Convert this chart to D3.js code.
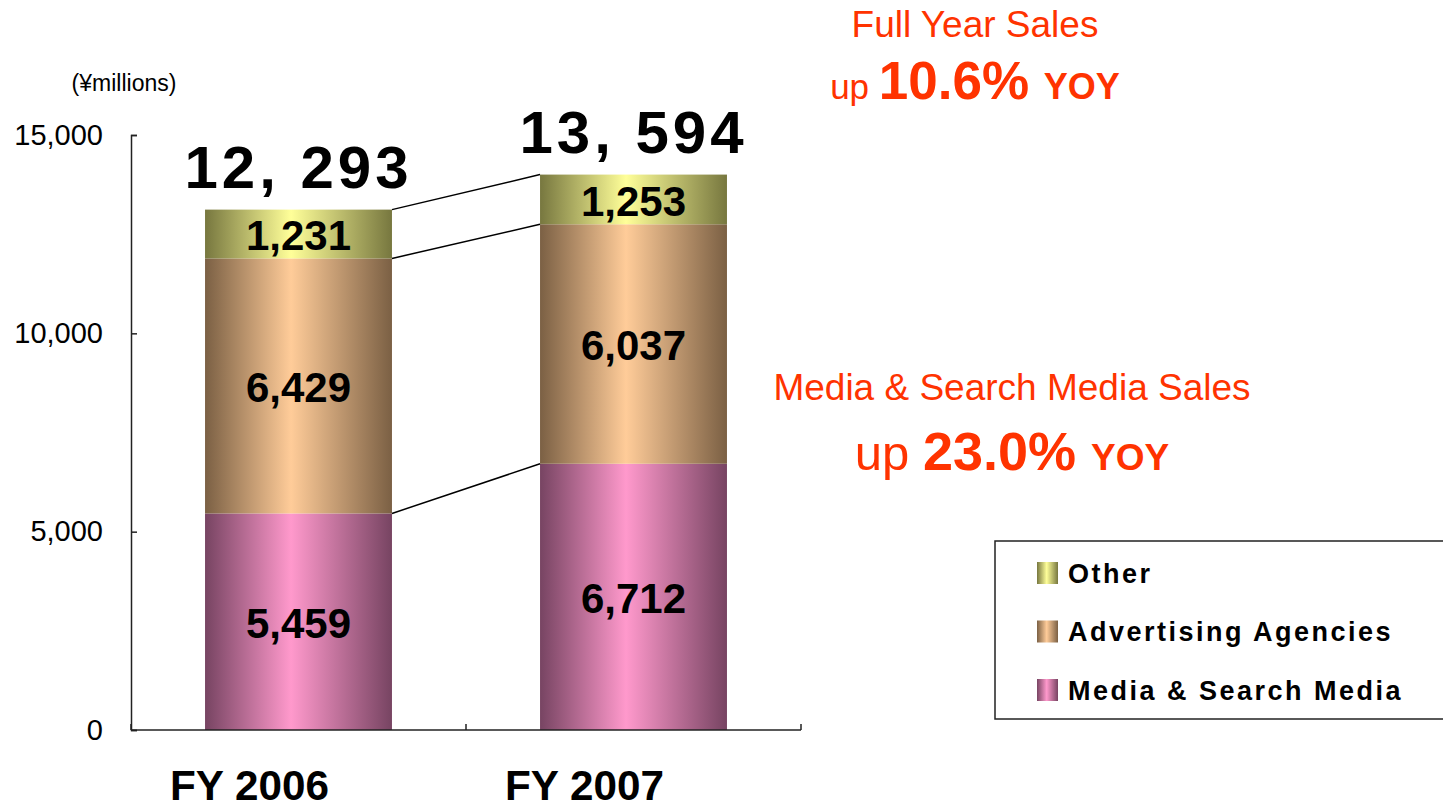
<!DOCTYPE html>
<html lang="en"><head>
<meta charset="utf-8"/>
<title>Sales by segment FY2006 - FY2007</title>
<script src="https://d3js.org/d3.v7.min.js"></script>
<style>
    body { margin: 0; padding: 0; background: #fff; width: 1443px; height: 808px; overflow: hidden; }
    svg { font-family: 'Liberation Sans', Arial, sans-serif; }
</style>
</head>
<body>
<svg id="chart" width="1443" height="808"></svg>
<script>
    // data
    const categories = ["FY 2006", "FY 2007"];
    const seriesNames = ["Media & Search Media", "Advertising Agencies", "Other"];
    const mediaSales = [5459, 6712];
    const agencySales = [6429, 6037];
    const otherSales = [1231, 1253];
    const totalLabels = ["12, 293", "13, 594"];
    const yTicks = [0, 5000, 10000, 15000];

    const gradColors = [
        { id: "gMedia", edge: "#774462", mid: "#ff99cc" },
        { id: "gAgency", edge: "#7b6044", mid: "#ffcc99" },
        { id: "gOther", edge: "#77773f", mid: "#ffff99" }
    ];

    const rows = categories.map((c, i) => ({
        cat: c, media: mediaSales[i], agency: agencySales[i], other: otherSales[i]
    }));
    const keys = ["media", "agency", "other"];
    const stacked = d3.stack().keys(keys)(rows);

    const svg = d3.select("#chart");

    // gradients (dark edges, light centre)
    const defs = svg.append("defs");
    gradColors.forEach(g => {
        const lg = defs.append("linearGradient").attr("id", g.id)
            .attr("x1", "0%").attr("x2", "100%").attr("y1", "0%").attr("y2", "0%");
        lg.append("stop").attr("offset", "0%").attr("stop-color", g.edge);
        lg.append("stop").attr("offset", "46%").attr("stop-color", g.mid);
        lg.append("stop").attr("offset", "100%").attr("stop-color", g.edge);
    });

    const x = d3.scaleBand().domain(categories).range([131, 801])
        .paddingInner(0.442).paddingOuter(0.221);
    const y = d3.scaleLinear().domain([0, 15000]).range([730, 135]);
    const bw = x.bandwidth();

    // y axis
    const yAxis = svg.append("g")
        .attr("transform", "translate(131,0)")
        .call(d3.axisLeft(y).tickValues(yTicks).tickSize(-6).tickPadding(28)
            .tickFormat(d3.format(",")));
    yAxis.select(".domain").attr("stroke", "#222").attr("stroke-width", 1.5);
    yAxis.selectAll(".tick line").attr("stroke", "#222").attr("stroke-width", 1.5);
    yAxis.selectAll("text").attr("font-size", 29).attr("fill", "#000")
        .attr("font-family", "'Liberation Sans', Arial, sans-serif");

    svg.append("text").attr("x", 124).attr("y", 91).attr("text-anchor", "middle")
        .attr("font-size", 23).text("(\u00a5millions)");

    // bars
    const layers = svg.append("g").selectAll("g").data(stacked).join("g")
        .attr("fill", (d, i) => `url(#${gradColors[i].id})`);
    layers.selectAll("rect").data(d => d).join("rect")
        .attr("x", d => x(d.data.cat))
        .attr("width", bw)
        .attr("y", d => y(d[1]))
        .attr("height", d => y(d[0]) - y(d[1]));

    // segment labels
    layers.selectAll("text").data(d => d).join("text")
        .attr("x", d => x(d.data.cat) + bw / 2)
        .attr("y", d => (y(d[0]) + y(d[1])) / 2 + 1)
        .attr("dy", "0.36em")
        .attr("text-anchor", "middle")
        .attr("font-size", 42).attr("font-weight", "bold").attr("fill", "#000")
        .text(d => d3.format(",")(d[1] - d[0]));

    // connector lines between bars
    stacked.forEach(layer => {
        svg.append("line")
            .attr("x1", x(categories[0]) + bw).attr("y1", y(layer[0][1]))
            .attr("x2", x(categories[1])).attr("y2", y(layer[1][1]))
            .attr("stroke", "#000").attr("stroke-width", 1.5);
    });

    // x axis
    svg.append("line").attr("x1", 131).attr("x2", 801).attr("y1", 730).attr("y2", 730)
        .attr("stroke", "#222").attr("stroke-width", 1.5);
    const step = x.step();
    const seps = [131, ...categories.map(c => x(c) + bw + step * x.paddingInner() / 2)];
    seps[seps.length - 1] = 801;
    svg.selectAll(".xsep").data(seps).join("line")
        .attr("x1", d => d).attr("x2", d => d).attr("y1", 730).attr("y2", 724)
        .attr("stroke", "#222").attr("stroke-width", 1.5);
    svg.selectAll(".xlab").data(categories).join("text")
        .attr("x", d => x(d) + bw / 2 - 49).attr("y", 800)
        .attr("text-anchor", "middle")
        .attr("font-size", 42).attr("font-weight", "bold")
        .attr("textLength", 159).attr("lengthAdjust", "spacingAndGlyphs")
        .text(d => d);

    // totals above bars
    svg.selectAll(".total").data(rows).join("text")
        .attr("x", (d, i) => x(d.cat) + bw / 2)
        .attr("y", (d, i) => y(stacked[2][i][1]) - 22)
        .attr("text-anchor", "middle")
        .attr("font-size", 60).attr("font-weight", "bold").attr("letter-spacing", 4)
        .text((d, i) => totalLabels[i]);

    // red annotations
    const red = "#ff3300";
    svg.append("text").attr("x", 975).attr("y", 37).attr("text-anchor", "middle")
        .attr("font-size", 37).attr("fill", red).text("Full Year Sales");
    const t1 = svg.append("text").attr("x", 975).attr("y", 99).attr("text-anchor", "middle").attr("fill", red);
    t1.append("tspan").attr("font-size", 35).text("up ");
    t1.append("tspan").attr("font-size", 53).attr("font-weight", "bold").text("10.6% ");
    t1.append("tspan").attr("font-size", 36).attr("font-weight", "bold").text("YOY");

    svg.append("text").attr("x", 1012).attr("y", 400).attr("text-anchor", "middle")
        .attr("font-size", 37).attr("fill", red).text("Media & Search Media Sales");
    const t2 = svg.append("text").attr("x", 1012).attr("y", 470).attr("text-anchor", "middle").attr("fill", red);
    t2.append("tspan").attr("font-size", 49).text("up ");
    t2.append("tspan").attr("font-size", 54).attr("font-weight", "bold").text("23.0% ");
    t2.append("tspan").attr("font-size", 37).attr("font-weight", "bold").text("YOY");

    // legend
    const legend = svg.append("g");
    legend.append("rect").attr("x", 995).attr("y", 541).attr("width", 470).attr("height", 178)
        .attr("fill", "#fff").attr("stroke", "#222").attr("stroke-width", 1.5);
    const legendOrder = [2, 1, 0];
    const ly = d3.scalePoint().domain(legendOrder).range([573, 690]);
    legendOrder.forEach(i => {
        legend.append("rect").attr("x", 1037).attr("y", ly(i) - 11).attr("width", 21).attr("height", 22)
            .attr("fill", `url(#${gradColors[i].id})`);
        legend.append("text").attr("x", 1068).attr("y", ly(i)).attr("dy", "0.37em")
            .attr("font-size", 27).attr("font-weight", "bold").attr("letter-spacing", 2.5)
            .text(seriesNames[i]);
    });
</script>
</body></html>
